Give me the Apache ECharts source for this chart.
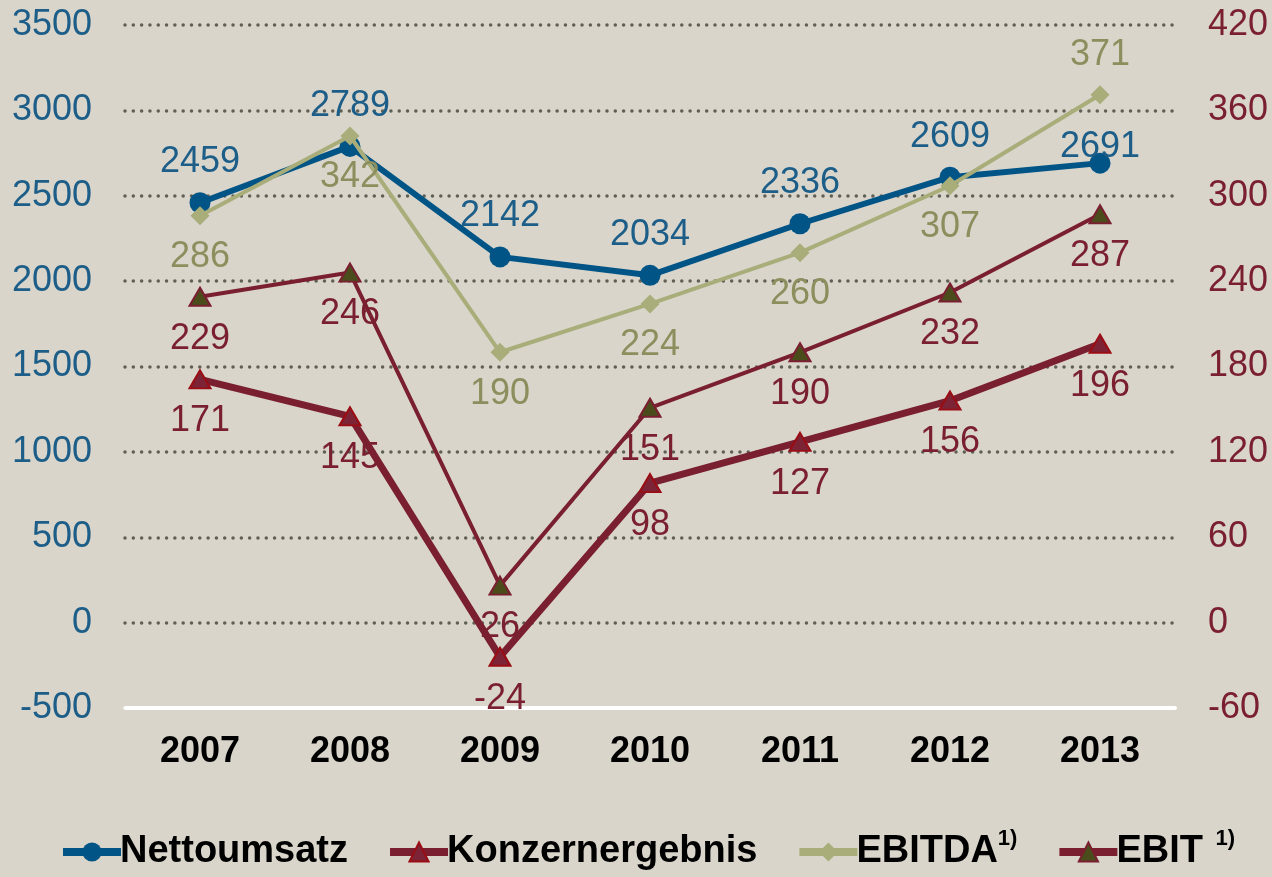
<!DOCTYPE html>
<html>
<head>
<meta charset="utf-8">
<script src="https://cdn.jsdelivr.net/npm/echarts@6/dist/echarts.min.js"></script>
<style>
  html, body { margin: 0; padding: 0; background: #d9d5cb; }
  #chart { width: 1272px; height: 877px; }
</style>
</head>
<body>
<div id="chart"></div>
<script>
// Jahre
const years = ["2007", "2008", "2009", "2010", "2011", "2012", "2013"];
// linke Achse (Nettoumsatz)
const nettoumsatz = [2459, 2789, 2142, 2034, 2336, 2609, 2691];
// rechte Achse
const konzernergebnis = [171, 145, -24, 98, 127, 156, 196];
const ebitda = [286, 342, 190, 224, 260, 307, 371];
const ebit = [229, 246, 26, 151, 190, 232, 287];

const blue = "#005486";
const maroon = "#7a1f30";
const olive = "#a9ad79";
const oliveText = "#8c8f5d";
const font = "Liberation Sans, Arial, sans-serif";

const chart = echarts.init(document.getElementById("chart"));

const labelBase = {
  show: true,
  fontFamily: font,
  fontSize: 36
};

const option = {
  backgroundColor: "#d9d5cb",
  animation: false,
  grid: {
    left: 125,
    right: 97,
    top: 25,
    bottom: 169
  },
  legend: {
    bottom: 1,
    left: 54,
    itemWidth: 58,
    itemHeight: 24,
    itemGap: 38,
    lineStyle: { width: 8 },
    textStyle: {
      fontFamily: font,
      fontSize: 38,
      fontWeight: "bold",
      color: "#000",
      padding: [0, 0, 0, -6],
      rich: {
        sup: {
          fontFamily: font,
          fontSize: 22,
          color: "#000",
          padding: [0, 0, 26, 2]
        },
        supShort: {
          fontFamily: font,
          fontSize: 22,
          color: "#000",
          width: 8,
          padding: [0, 0, 26, 0]
        }
      }
    },
    formatter: name => {
      if (name === "EBITDA") return "EBITDA{supShort|1)}";
      if (name === "EBIT") return "EBIT {sup|1)}";
      return name;
    },
    data: ["Nettoumsatz", "Konzernergebnis", "EBITDA", "EBIT"]
  },
  xAxis: {
    type: "category",
    data: years,
    axisLine: { onZero: false, lineStyle: { color: "#ffffff", width: 4 } },
    axisTick: { show: false },
    axisLabel: {
      margin: 26,
      fontFamily: font,
      fontSize: 36,
      fontWeight: "bold",
      color: "#000"
    }
  },
  yAxis: [
    {
      type: "value",
      min: -500,
      max: 3500,
      interval: 500,
      axisLine: { show: false },
      axisTick: { show: false },
      axisLabel: {
        margin: 33,
        fontFamily: font,
        fontSize: 36,
        color: "#1d5e89",
        formatter: v => String(v)
      },
      splitLine: {
        show: true,
        lineStyle: { color: "#5f5f55", width: 3.5, type: [0.01, 8.3], cap: "round" }
      }
    },
    {
      type: "value",
      min: -60,
      max: 420,
      interval: 60,
      axisLine: { show: false },
      axisTick: { show: false },
      axisLabel: {
        margin: 33,
        fontFamily: font,
        fontSize: 36,
        color: maroon,
        formatter: v => String(v)
      },
      splitLine: { show: false }
    }
  ],
  series: [
    {
      name: "Nettoumsatz",
      type: "line",
      yAxisIndex: 0,
      data: nettoumsatz.map((v, i) =>
        i === 6 ? { value: v, label: { offset: [0, 24] } } : v
      ),
      symbol: "circle",
      symbolSize: 21,
      lineStyle: { color: blue, width: 6 },
      itemStyle: { color: blue },
      label: { ...labelBase, position: "top", distance: 12, color: "#1d5e89" },
      z: 2
    },
    {
      name: "Konzernergebnis",
      type: "line",
      yAxisIndex: 1,
      data: konzernergebnis,
      symbol: "triangle",
      symbolSize: [21, 18],
      lineStyle: { color: maroon, width: 7 },
      itemStyle: { color: "#7c2435", borderColor: "#9b0d14", borderWidth: 2 },
      label: { ...labelBase, position: "bottom", distance: 14, color: maroon },
      z: 3
    },
    {
      name: "EBITDA",
      type: "line",
      yAxisIndex: 1,
      data: ebitda.map((v, i) =>
        i === 6 ? { value: v, label: { position: "top", distance: 12 } } : v
      ),
      symbol: "diamond",
      symbolSize: 19,
      lineStyle: { color: olive, width: 4 },
      itemStyle: { color: olive },
      label: { ...labelBase, position: "bottom", distance: 14, color: oliveText },
      z: 4
    },
    {
      name: "EBIT",
      type: "line",
      yAxisIndex: 1,
      data: ebit,
      symbol: "triangle",
      symbolSize: [21, 18],
      lineStyle: { color: maroon, width: 4 },
      itemStyle: { color: "#4a4c1c", borderColor: maroon, borderWidth: 2 },
      label: { ...labelBase, position: "bottom", distance: 14, color: maroon },
      z: 5
    }
  ]
};

chart.setOption(option);
</script>
</body>
</html>
